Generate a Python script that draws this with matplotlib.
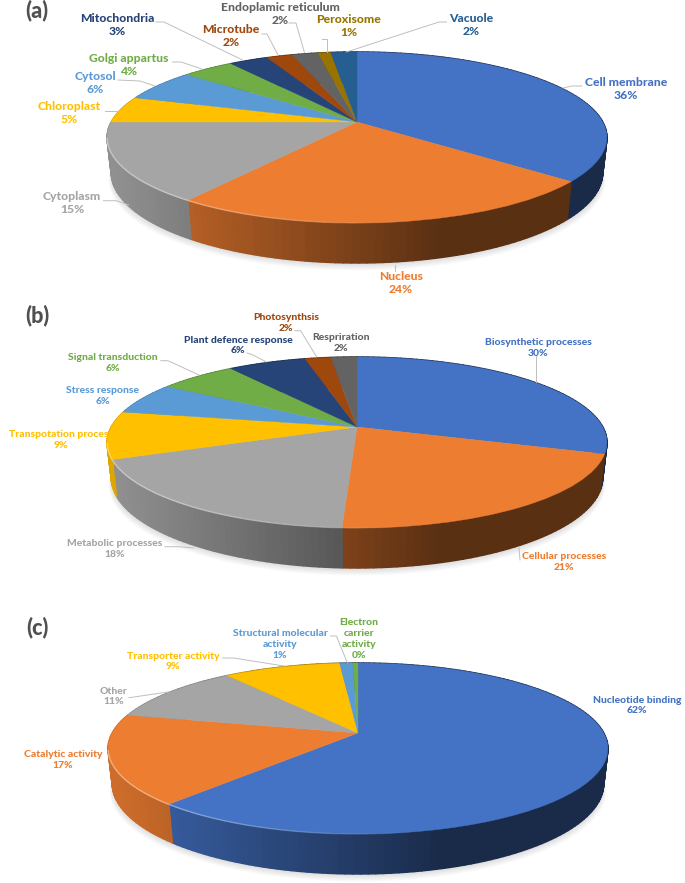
import numpy as np
import matplotlib
matplotlib.use("Agg")
import matplotlib.pyplot as plt
from matplotlib.collections import PolyCollection, LineCollection
from matplotlib.colors import to_rgb
from matplotlib.patches import Polygon
from matplotlib.transforms import Transform

plt.rcParams['font.family'] = ['Lato', 'DejaVu Sans']

# ---------- data ----------
labels_a = ["Cell membrane", "Nucleus", "Cytoplasm", "Chloroplast", "Cytosol", "Golgi appartus",
            "Mitochondria", "Microtube", "Endoplamic reticulum", "Peroxisome", "Vacuole"]
values_a = [36, 24, 15, 5, 6, 4, 3, 2, 2, 1, 2]

labels_b = ["Biosynthetic processes", "Cellular processes", "Metabolic processes", "Transpotation process",
            "Stress response", "Signal transduction", "Plant defence response", "Photosynthsis", "Respriration"]
values_b = [30, 20.8, 18.2, 9, 6, 6, 6, 2, 2]

labels_c = ["Nucleotide binding", "Catalytic activity", "Other", "Transporter activity",
            "Structural molecular\nactivity", "Electron\ncarrier\nactivity"]
values_c = [61.6, 17, 11, 9, 1, 0.4]

palette = ["#4472C4", "#ED7D31", "#A5A5A5", "#FFC000", "#5B9BD5", "#70AD47",
           "#264478", "#9E480E", "#636363", "#997300", "#255E91"]

# ---------- layout (pixels of the 685x883 figure) ----------
W, H = 685, 883
KX, KY = 245.8, 82.7      # projected disc half sizes
PERSP = 0.181             # perspective strength
DEPTH, DROP = 35.1, 0.0167

pos_a = [(626, 89), (401, 283), (72, 203), (69.5, 113), (95, 83), (129, 65),
         (117, 25), (231, 36), (280, 14), (349, 26), (471, 25)]
pos_b = [(538, 348), (564, 562), (114.5, 549), (61, 440), (103, 396), (113, 363),
         (238, 345.5), (286, 323), (341, 343)]
pos_c = [(637, 705.5), (63, 760), (114, 696.5), (173, 661.5), (280, 644.5), (359, 639)]

leaders_a = [[(582, 86), (572, 86), (563, 88)], [(395, 265), (395, 271)],
             [(103.5, 200.7), (116, 200.7), (129, 205)], [(105, 110.7), (118, 110.7)],
             [(118, 80), (140, 81), (155, 86)], [(172.6, 62), (181, 62), (202, 69)],
             [(156, 22), (164, 22), (242.5, 60)], [(262, 34), (267, 34), (278, 55)],
             [(289, 23), (296, 23), (304.5, 52.7)], [(322.4, 39), (327, 39), (327, 52)],
             [(446.5, 22), (439, 22), (346.4, 52)]]
leaders_b = [[(536.5, 355), (536.5, 381.7)], [(519, 548), (520, 560)],
             [(165, 546.7), (179, 546.7), (193.5, 548)], [(160.8, 360.7), (168, 360.7), (199, 375)],
             [(247, 353), (253, 355), (266.5, 362)], [(295, 330.7), (300.6, 330.7), (316.7, 357)]]
leaders_c = [[(129, 697.7), (170, 691.7)], [(222.8, 658), (233.7, 658), (284, 666)],
             [(330.7, 636), (336.4, 636), (347.3, 662.7)]]


class DiscPerspective(Transform):
    """Maps the unit pie disc onto the tilted plane of the figure."""
    input_dims = output_dims = 2
    is_affine = False
    has_inverse = False

    def __init__(self, cx, cy):
        super().__init__()
        self.cx, self.cy = cx, cy

    def transform_non_affine(self, values):
        values = np.asarray(values, dtype=float)
        u, v = values[:, 0], values[:, 1]
        w = 1 + PERSP * v
        return np.column_stack([self.cx + KX * u / w, self.cy - KY * v / w])


def rim(cx, cy, theta, lower=False):
    u, v = np.cos(theta), np.sin(theta)
    w = 1 + PERSP * v + (DROP if lower else 0)
    y = KY * v - (DEPTH if lower else 0)
    return np.column_stack([cx + KX * u / w, cy - y / w])


def shade(x):
    return np.interp(x, [115, 440], [0.87, 0.38])


fig = plt.figure(figsize=(W / 100, H / 100), dpi=100, facecolor="white")
ax = fig.add_axes([0, 0, 1, 1])


def draw_pie(values, cx, cy):
    vals = np.asarray(values, dtype=float)
    edges = np.cumsum(np.r_[0, vals]) / vals.sum()
    # soft shadow under the disc
    th = np.linspace(0, 2 * np.pi, 240)
    for i in range(6):
        pts = rim(cx, cy, th, lower=True)
        pts = np.column_stack([cx + (pts[:, 0] - cx) * (1 + 0.002 * i), pts[:, 1] + 1.0 + i * 1.3])
        ax.add_patch(Polygon(pts, closed=True, fc="#000000", ec="none", alpha=0.022, zorder=1))
    # side wall, one thin strip per step of arc
    polys, cols, segs, segcols = [], [], [], []
    for k in range(len(vals)):
        col = np.array(to_rgb(palette[k]))
        t0, t1 = np.pi / 2 - 2 * np.pi * edges[k], np.pi / 2 - 2 * np.pi * edges[k + 1]
        n = max(2, int(abs(t1 - t0) / np.radians(1.5)))
        ts = np.linspace(t0, t1, n + 1)
        up, lo = rim(cx, cy, ts), rim(cx, cy, ts, lower=True)
        for j in range(n):
            polys.append([up[j], up[j + 1], lo[j + 1], lo[j]])
            cols.append(tuple(col * shade(0.5 * (up[j, 0] + up[j + 1, 0]))))
            if np.sin(ts[j]) < -0.2:
                xm = 0.5 * (up[j, 0] + up[j + 1, 0])
                segs.append([up[j], up[j + 1]])
                segcols.append((*(col * 0.5 + 0.5), float(np.clip((430 - xm) / 260, 0, 1)) * 0.8))
    ax.add_collection(PolyCollection(polys, facecolors=cols, edgecolors=cols, linewidths=1.1, zorder=2))
    # top face
    wedges, _ = ax.pie(vals, startangle=90, counterclock=False, radius=1, colors=palette[:len(vals)],
                       frame=True, wedgeprops=dict(linewidth=0.25))
    tr = DiscPerspective(cx, cy) + ax.transData
    for wd, c in zip(wedges, palette):
        wd.set_transform(tr)
        wd.set_edgecolor(c)
        wd.set_zorder(3)
    ax.add_collection(LineCollection(segs, colors=segcols, linewidths=1.0, zorder=4))


def draw_labels(labels, values, pos, leaders, size, pitch, weight):
    for lab, val, (x, y), c in zip(labels, values, pos, palette):
        lines = f"{lab}\n{round(val)}%".split("\n")
        y0 = y - pitch * (len(lines) - 1) / 2
        for i, line in enumerate(lines):
            ax.text(x, y0 + i * pitch, line, color=c, fontsize=size, fontweight=weight,
                    ha="center", va="center", zorder=6)
    for pts in leaders:
        pts = np.array(pts)
        ax.plot(pts[:, 0], pts[:, 1], color="#BFBFBF", lw=0.7, zorder=5)


draw_pie(values_a, 357, 122)
draw_pie(values_b, 357, 427)
draw_pie(values_c, 358, 733)

draw_labels(labels_a, values_a, pos_a, leaders_a, 8.7, 12.4, "black")
draw_labels(labels_b, values_b, pos_b, leaders_b, 7.5, 10.7, "black")
draw_labels(labels_c, values_c, pos_c, leaders_c, 7.5, 10.7, "black")

for t, y in zip(["(a)", "(b)", "(c)"], [10, 315, 627]):
    ax.text(37, y, t, color="#505050", fontsize=15.5, fontweight="black", ha="center", va="center", zorder=6)

ax.set_aspect("auto")
ax.set_xlim(0, W)
ax.set_ylim(H, 0)
ax.axis("off")
fig.savefig("out.png", dpi=100, facecolor="white")
